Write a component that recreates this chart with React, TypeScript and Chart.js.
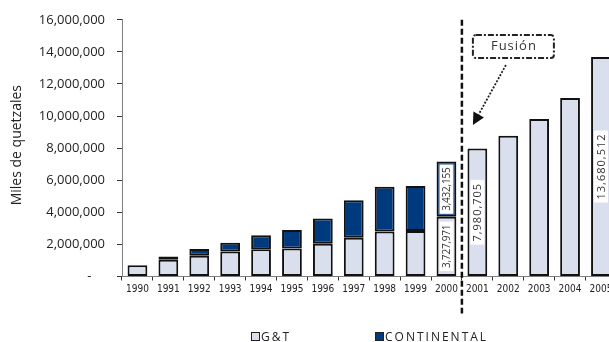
import React, { useEffect, useRef } from "react";
import { Chart, registerables } from "chart.js";

Chart.register(...registerables);

// Años del eje horizontal
const years = [
  "1990", "1991", "1992", "1993", "1994", "1995", "1996", "1997",
  "1998", "1999", "2000", "2001", "2002", "2003", "2004", "2005",
];

// Miles de quetzales, G&T
const gtValues = [
  700000, 1050000, 1300000, 1560000, 1700000, 1750000, 2040000, 2410000,
  2810000, 2840000, 3727971, 7980705, 8770000, 9810000, 11130000, 13680512,
];

// Miles de quetzales, Continental (hasta la fusión)
const continentalValues = [
  null, 200000, 410000, 540000, 870000, 1150000, 1580000, 2340000,
  2780000, 2800000, 3432155, null, null, null, null, null,
];

const yMin = 0;
const yMax = 16000000;
const yStep = 2000000;

// Segmentos con su valor escrito: [serie, índice, tamaño de letra, espaciado]
const labelledSegments: [number, number, number, number][] = [
  [0, 10, 10, -0.2],
  [1, 10, 10, -0.2],
  [0, 11, 11, 1],
  [0, 15, 11, 1],
];

const seriesNames = ["G&T", "CONTINENTAL"];
const mergerText = "Fusión";
const axisTitle = "Miles de quetzales";

const LIGHT = "#dadfee";
const DARK = "#003a7e";
const EDGE = "#111111";
const FONT = "'Open Sans', 'DejaVu Sans', sans-serif";

const annotations = {
  id: "annotations",
  afterDatasetsDraw(chart: any) {
    const ctx = chart.ctx as CanvasRenderingContext2D;
    // value labels inside the bars
    for (const [ds, idx, size, spacing] of labelledSegments) {
      const el = chart.getDatasetMeta(ds).data[idx];
      const value = chart.data.datasets[ds].data[idx] as number;
      const text = value.toLocaleString("en-US");
      const cy = (el.y + el.base) / 2;
      ctx.save();
      ctx.font = `${size}px ${FONT}`;
      (ctx as any).letterSpacing = `${spacing}px`;
      const w = ctx.measureText(text).width;
      ctx.translate(el.x, cy);
      ctx.rotate(-Math.PI / 2);
      ctx.fillStyle = "#ffffff";
      ctx.fillRect(-w / 2 - 3, -7, w + 6, 14);
      ctx.fillStyle = "#333333";
      ctx.textAlign = "center";
      ctx.textBaseline = "middle";
      ctx.fillText(text, 0, 0.5);
      ctx.restore();
    }
  },
  afterDraw(chart: any) {
    const ctx = chart.ctx as CanvasRenderingContext2D;
    const x = chart.scales.x;
    const y = chart.scales.y;
    const area = chart.chartArea;

    // vertical dashed divider between 2000 and 2001
    const divX = (x.getPixelForValue(10) + x.getPixelForValue(11)) / 2;
    ctx.save();
    ctx.strokeStyle = "#111111";
    ctx.lineWidth = 2.5;
    ctx.setLineDash([6, 3]);
    ctx.beginPath();
    ctx.moveTo(divX, y.getPixelForValue(yMax));
    ctx.lineTo(divX, area.bottom + 37);
    ctx.stroke();
    ctx.restore();

    // "Fusión" callout box
    const bx = divX + 11;
    const by = 35;
    const bw = 81;
    const bh = 23;
    ctx.save();
    ctx.strokeStyle = "#222222";
    ctx.lineWidth = 2;
    ctx.setLineDash([6, 2, 2, 2]);
    ctx.beginPath();
    (ctx as any).roundRect(bx, by, bw, bh, 3);
    ctx.stroke();
    ctx.setLineDash([]);
    ctx.font = `13px ${FONT}`;
    (ctx as any).letterSpacing = "1px";
    ctx.fillStyle = "#333333";
    ctx.textAlign = "center";
    ctx.textBaseline = "middle";
    ctx.fillText(mergerText, bx + bw / 2 + 0.5, by + bh / 2);
    ctx.restore();

    // dotted arrow pointing at the divider
    const ax0 = bx + 33;
    const ay0 = by + bh + 7;
    const ax1 = divX + 11;
    const ay1 = 125;
    const ang = Math.atan2(ay1 - ay0, ax1 - ax0);
    const head = 12;
    const half = 6;
    ctx.save();
    ctx.strokeStyle = "#222222";
    ctx.fillStyle = "#111111";
    ctx.lineWidth = 1.8;
    ctx.setLineDash([2, 1.5]);
    ctx.beginPath();
    ctx.moveTo(ax0, ay0);
    ctx.lineTo(ax1 - Math.cos(ang) * head, ay1 - Math.sin(ang) * head);
    ctx.stroke();
    ctx.setLineDash([]);
    ctx.beginPath();
    ctx.moveTo(ax1, ay1);
    ctx.lineTo(
      ax1 - Math.cos(ang) * head - Math.sin(ang) * half,
      ay1 - Math.sin(ang) * head + Math.cos(ang) * half
    );
    ctx.lineTo(
      ax1 - Math.cos(ang) * head + Math.sin(ang) * half,
      ay1 - Math.sin(ang) * head - Math.cos(ang) * half
    );
    ctx.closePath();
    ctx.fill();
    ctx.restore();

    // y axis title
    ctx.save();
    ctx.translate(17, (area.top + area.bottom) / 2 - 3);
    ctx.rotate(-Math.PI / 2);
    ctx.font = `14px ${FONT}`;
    ctx.fillStyle = "#222222";
    ctx.textAlign = "center";
    ctx.textBaseline = "middle";
    ctx.fillText(axisTitle, 0, 0);
    ctx.restore();

    // legend
    const legendItems = [
      { x: 251, fill: LIGHT, text: seriesNames[0] },
      { x: 375, fill: DARK, text: seriesNames[1] },
    ];
    ctx.save();
    ctx.font = `12px ${FONT}`;
    (ctx as any).letterSpacing = "2px";
    ctx.textBaseline = "alphabetic";
    ctx.textAlign = "left";
    for (const item of legendItems) {
      ctx.fillStyle = item.fill;
      ctx.fillRect(item.x, 332, 8, 8);
      ctx.strokeStyle = "#222222";
      ctx.lineWidth = 1;
      ctx.strokeRect(item.x + 0.5, 332.5, 8, 8);
      ctx.fillStyle = "#222222";
      ctx.fillText(item.text, item.x + 10, 341);
    }
    ctx.restore();
  },
};

export default function App() {
  const canvasRef = useRef<HTMLCanvasElement | null>(null);

  useEffect(() => {
    const canvas = canvasRef.current;
    if (!canvas) return;
    const chart = new Chart(canvas, {
      type: "bar",
      data: {
        labels: years,
        datasets: [
          {
            label: seriesNames[0],
            data: gtValues,
            backgroundColor: LIGHT,
            borderColor: EDGE,
            borderWidth: 2,
            borderSkipped: false,
            barPercentage: 0.64,
            categoryPercentage: 1,
          },
          {
            label: seriesNames[1],
            data: continentalValues,
            backgroundColor: DARK,
            borderColor: EDGE,
            borderWidth: 2,
            borderSkipped: false,
            barPercentage: 0.64,
            categoryPercentage: 1,
          },
        ],
      },
      options: {
        responsive: false,
        animation: false,
        layout: { padding: { left: 0, top: 19, right: 3.6, bottom: 0 } },
        plugins: {
          legend: { display: false },
          tooltip: { enabled: false },
        },
        scales: {
          x: {
            stacked: true,
            afterFit: (s: any) => {
              s.height = 65.5;
            },
            grid: {
              offset: true,
              drawOnChartArea: false,
              drawTicks: true,
              tickLength: 4,
              color: "#333333",
            },
            border: { display: true, color: "#7f7f7f", width: 1 },
            ticks: {
              autoSkip: false,
              maxRotation: 0,
              padding: 3,
              color: "#222222",
              font: {
                family: "'Liberation Sans Narrow', 'DejaVu Sans Condensed', sans-serif",
                size: 10,
              },
            },
          },
          y: {
            stacked: true,
            min: yMin,
            max: yMax,
            afterFit: (s: any) => {
              s.width = 122;
            },
            grid: {
              drawOnChartArea: false,
              drawTicks: true,
              tickLength: 5,
              color: "#333333",
            },
            border: { display: true, color: "#7f7f7f", width: 1 },
            ticks: {
              stepSize: yStep,
              padding: 12,
              color: "#222222",
              font: { family: FONT, size: 13 },
              callback: (v: any) =>
                Number(v) === 0 ? "-    " : Number(v).toLocaleString("en-US"),
            },
          },
        },
      },
      plugins: [annotations],
    });
    return () => chart.destroy();
  }, []);

  return (
    <div
      style={{
        position: "fixed",
        left: 0,
        top: 0,
        width: 609,
        height: 342,
        overflow: "hidden",
        background: "#ffffff",
      }}
    >
      <canvas ref={canvasRef} width={620} height={342} style={{ display: "block" }} />
    </div>
  );
}
